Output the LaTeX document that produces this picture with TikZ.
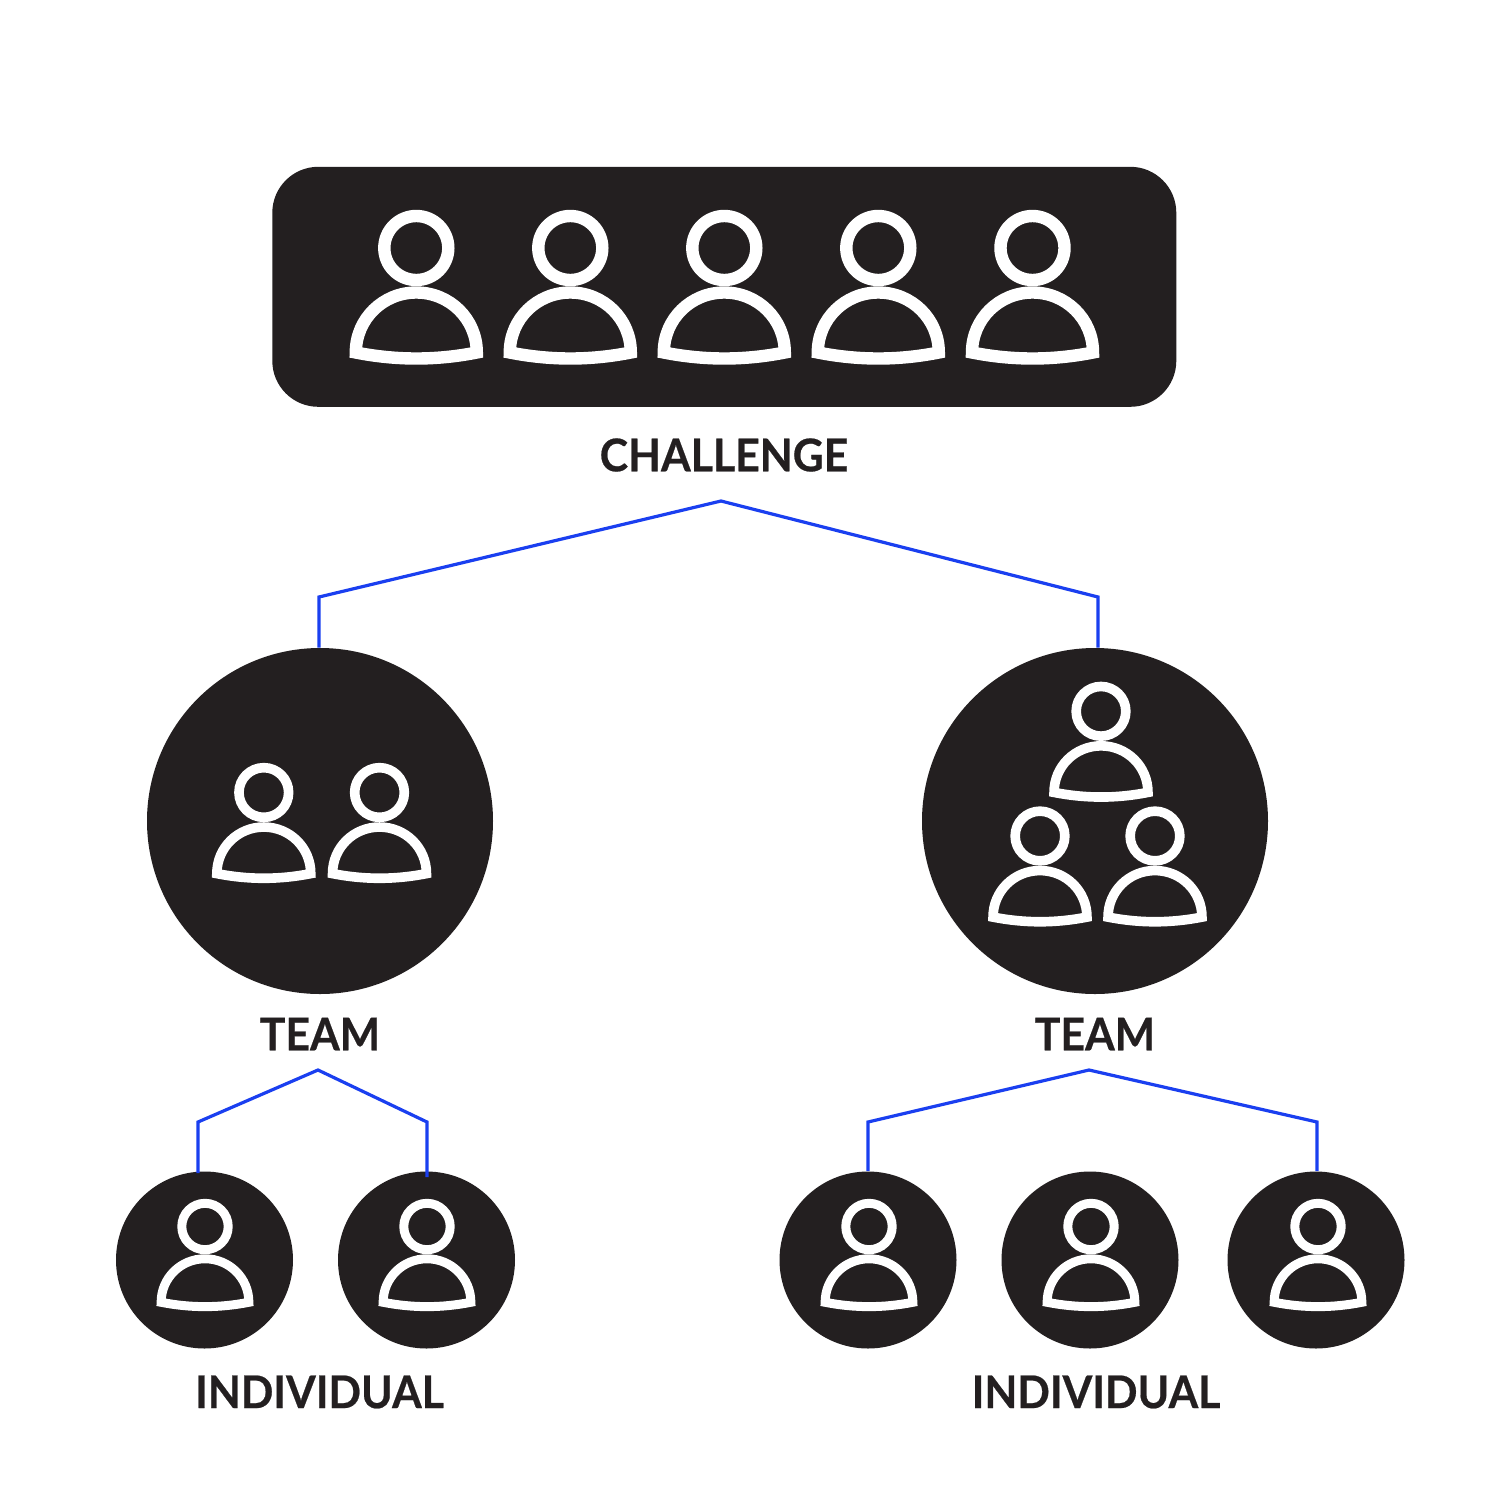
\documentclass[tikz,border=0pt]{standalone}
\usepackage{fontspec}
\usetikzlibrary{calc}
\setmainfont{Lato}[UprightFont=* Bold,FakeStretch=0.95,FakeBold=0.5]
\definecolor{ink}{HTML}{231F20}
\definecolor{wire}{HTML}{1A3FF0}
\newcommand{\personicon}[3]{%
  \begin{scope}[shift={(#1,#2)},x=#3*0.5pt,y=-#3*0.5pt]
    \draw[white,line width=#3*6.2pt] (0,0) circle[x radius=32,y radius=32];
    \draw[white,line width=#3*6.2pt,miter limit=10] (-60.5,104.5)
      .. controls (-60.5,71) and (-33.4,44.5) .. (0,44.5)
      .. controls (33.4,44.5) and (60.5,71) .. (60.5,104.5)
      .. controls (20,112.5) and (-20,112.5) .. cycle;
  \end{scope}}
\tikzset{
  blob/.style={circle,fill=ink,inner sep=0pt},
  bigblob/.style={blob,minimum size=173pt},
  smallblob/.style={blob,minimum size=88.5pt},
  panel/.style={rectangle,fill=ink,rounded corners=23pt,inner sep=0pt,minimum width=452pt,minimum height=120pt},
  caption/.style={text=ink,font=\fontsize{22.5}{28}\selectfont,inner sep=0pt},
  link/.style={wire,line width=1.6pt,miter limit=10}
}
\begin{document}
\begin{tikzpicture}[x=0.5pt,y=-0.5pt]
\useasboundingbox[fill=white] (0,0) rectangle (1500,1500);
\node[panel] (challenge) at (724.3,286.8) {};
\node[caption] (lchallenge) at (724,455) {CHALLENGE};
\node[bigblob] (teamL) at (320,821) {};
\node[bigblob] (teamR) at (1095,821) {};
\node[caption] (lteamL) at (320,1034) {TEAM};
\node[caption] (lteamR) at (1095,1034) {TEAM};
\node[smallblob] (a1) at (204.5,1260) {};
\node[smallblob] (a2) at (426.5,1260) {};
\node[smallblob] (b1) at (868,1260) {};
\node[smallblob] (b2) at (1090,1260) {};
\node[smallblob] (b3) at (1316,1260) {};
\node[caption] (lindL) at (319.5,1392) {INDIVIDUAL};
\node[caption] (lindR) at (1096,1392) {INDIVIDUAL};
\foreach \x in {416.3,570.3,724.3,878.3,1032.5}{\personicon{\x}{248}{1}}
\personicon{263.8}{792.5}{0.776}
\personicon{379.5}{792.5}{0.776}
\personicon{1101}{711.3}{0.776}
\personicon{1040}{836}{0.776}
\personicon{1155}{836}{0.776}
\personicon{205}{1226.5}{0.725}
\personicon{427}{1226.5}{0.725}
\personicon{869}{1226.5}{0.725}
\personicon{1091}{1226.5}{0.725}
\personicon{1318}{1226.5}{0.725}
\coordinate (apexTop) at (721,501);
\coordinate (apexL) at (318,1070);
\coordinate (apexR) at (1089,1070);
\draw[link] ($(teamL.north)+(-1,0)$) -- (319,597) -- (apexTop) -- (1098,597) -- ($(teamR.north)+(3,0)$);
\draw[link] ($(a1.north)+(-6.5,2)$) -- (198,1122) -- (apexL) -- (427,1122) -- ($(a2.north)+(0.5,6)$);
\draw[link] (b1.north) -- (868,1122) -- (apexR) -- (1317,1122) -- ($(b3.north)+(1,0)$);
\end{tikzpicture}
\end{document}
